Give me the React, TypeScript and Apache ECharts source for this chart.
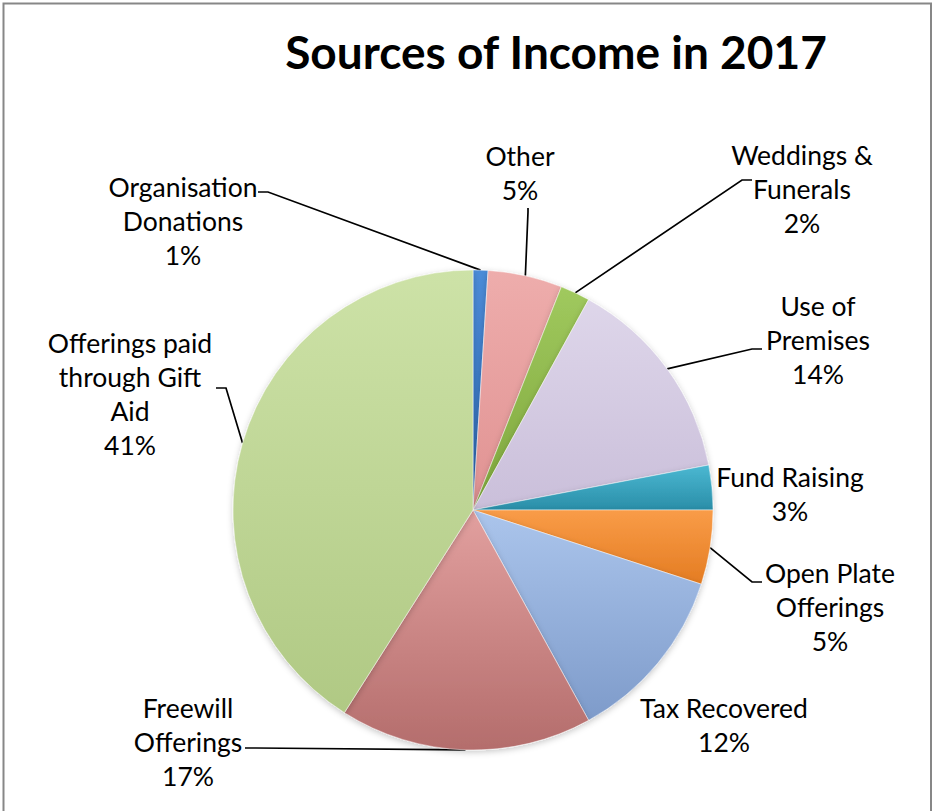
import React, { useEffect, useRef } from 'react';
import * as echarts from 'echarts';

// ---- data ----
const titleText = 'Sources of Income in 2017';
const categories = [
  'Organisation Donations',
  'Other',
  'Weddings & Funerals',
  'Use of Premises',
  'Fund Raising',
  'Open Plate Offerings',
  'Tax Recovered',
  'Freewill Offerings',
  'Offerings paid through Gift Aid',
];
const labelNames = [
  'Organisation\nDonations',
  'Other',
  'Weddings &\nFunerals',
  'Use of\nPremises',
  'Fund Raising',
  'Open Plate\nOfferings',
  'Tax Recovered',
  'Freewill\nOfferings',
  'Offerings paid\nthrough Gift\nAid',
];
const values = [1, 5, 2, 14, 3, 5, 12, 17, 41];

// ---- styles / layout ----
const sliceColors: [string, string][] = [
  ['#4C8CD8', '#2D68B4'],
  ['#EEADAC', '#E09292'],
  ['#A0C95E', '#7EA63C'],
  ['#DED6EA', '#CABFDA'],
  ['#4BB8D2', '#2A8EA8'],
  ['#F99C48', '#E47C22'],
  ['#ABC5EC', '#7E9BCA'],
  ['#E2A09F', '#B46D6C'],
  ['#CDE2A7', '#B0C984'],
];
const labelCenters: [number, number][] = [
  [183, 221],
  [520, 173],
  [802, 189],
  [818, 340],
  [790, 494],
  [830, 607],
  [724, 725],
  [188, 742],
  [130, 394],
];
const leaderEnds: ([number, number][] | null)[] = [
  [[268, 192], [258, 192]],
  [[528, 212], [528, 208]],
  [[742, 180], [752, 180]],
  [[752, 349], [762, 349]],
  null,
  [[752, 582], [762, 582]],
  null,
  [[256, 748], [245, 748]],
  [[226, 388], [216, 388]],
];

const FONT = 'Lato, "Open Sans", sans-serif';

export default function App() {
  const ref = useRef<HTMLDivElement>(null);
  useEffect(() => {
    if (!ref.current) return;
    const chart = echarts.init(ref.current, null, { renderer: 'svg' });
    const data = categories.map((name, i) => ({
      name,
      value: values[i],
      itemStyle: {
        color: new echarts.graphic.LinearGradient(0, 0, 0, 1, [
          { offset: 0, color: sliceColors[i][0] },
          { offset: 1, color: sliceColors[i][1] },
        ]),
      },
      labelLine: { show: leaderEnds[i] !== null },
    }));
    chart.setOption({
      animation: false,
      backgroundColor: '#ffffff',
      title: {
        text: titleText,
        left: 551,
        top: 46,
        textAlign: 'center',
        textVerticalAlign: 'middle',
        textStyle: { fontFamily: FONT, fontWeight: 'bold', fontSize: 46, color: '#000' },
      },
      graphic: [
        {
          type: 'rect',
          shape: { x: 3.5, y: 3.5, width: 927.5, height: 900 },
          style: { fill: 'none', stroke: '#878787', lineWidth: 2 },
          silent: true,
        },
      ],
      series: [
        {
          type: 'pie',
          center: [473, 510],
          radius: 240,
          startAngle: 90,
          clockwise: true,
          avoidLabelOverlap: false,
          percentPrecision: 0,
          data,
          itemStyle: {
            borderColor: 'rgba(255,255,255,0.45)',
            borderWidth: 1,
            shadowBlur: 6,
            shadowColor: 'rgba(0,0,0,0.22)',
            shadowOffsetY: 2,
          },
          label: {
            show: true,
            position: 'outside',
            formatter: (p: any) => `${labelNames[p.dataIndex]}\n${p.percent}%`,
            fontFamily: FONT,
            fontSize: 26.5,
            lineHeight: 34,
            color: '#000',
            align: 'center',
            overflow: 'none',
          },
          labelLine: {
            show: true,
            length: 15,
            length2: 10,
            lineStyle: { color: '#000', width: 1.7 },
          },
          labelLayout: (params: any) => {
            const i = params.dataIndex;
            const [cx, cy] = labelCenters[i];
            const out: any = { x: cx, y: cy, align: 'center', verticalAlign: 'middle' };
            const ends = leaderEnds[i];
            if (ends && params.labelLinePoints) {
              const anchor = params.labelLinePoints[0];
              out.labelLinePoints = [[anchor[0], anchor[1]], ends[0], ends[1]];
            }
            return out;
          },
        },
      ],
    });
    return () => chart.dispose();
  }, []);
  return (
    <div
      ref={ref}
      style={{ position: 'fixed', left: 0, top: 0, width: 933, height: 811 }}
    />
  );
}
